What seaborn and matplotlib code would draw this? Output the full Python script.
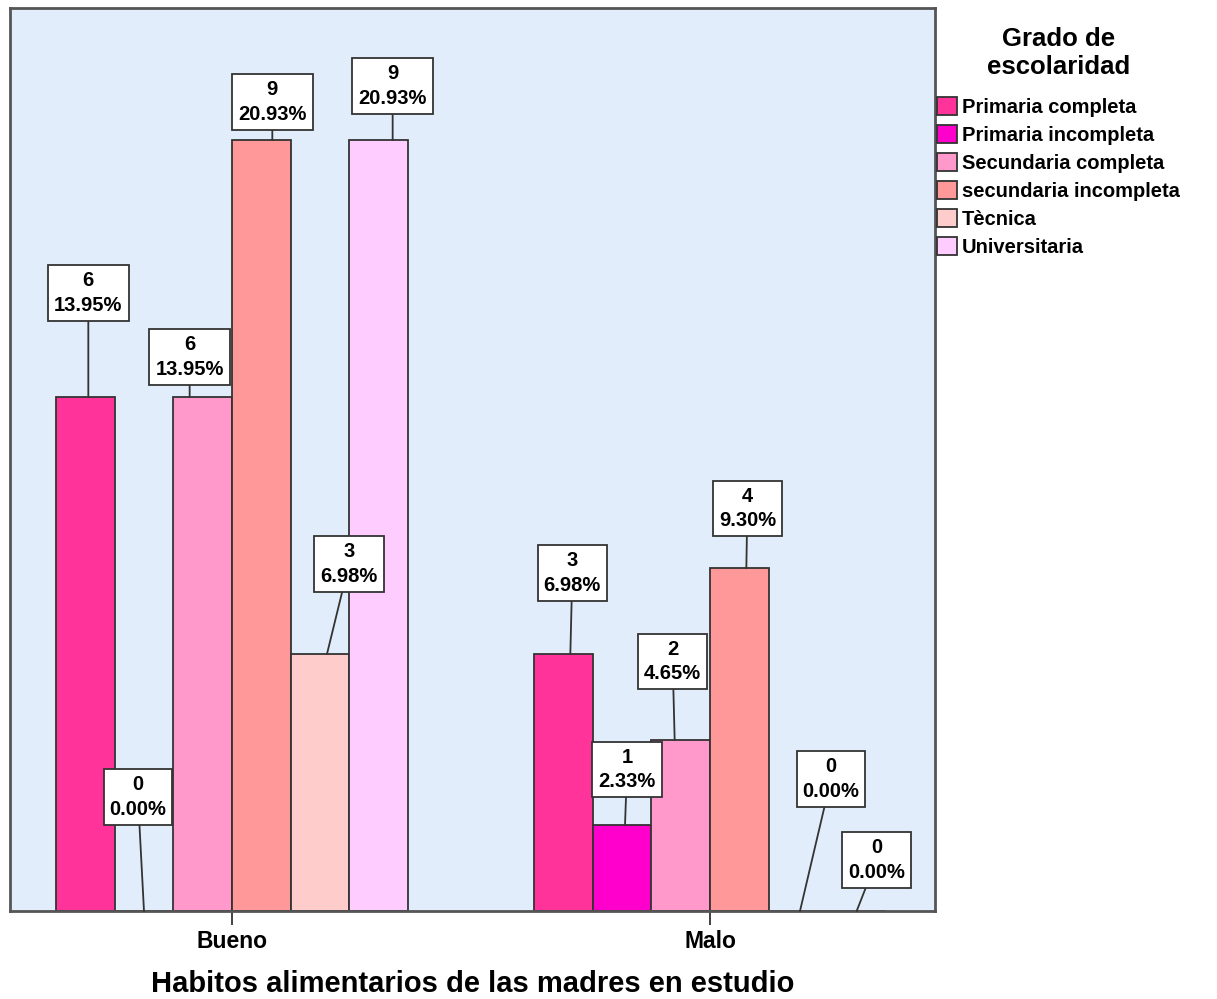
import matplotlib
matplotlib.use("Agg")
import matplotlib.pyplot as plt
import matplotlib.transforms as mtransforms
import pandas as pd
import seaborn as sns

# ---- data -------------------------------------------------------------
habitos = ["Bueno", "Malo"]
grados = ["Primaria completa", "Primaria incompleta", "Secundaria completa",
          "secundaria incompleta", "Tècnica", "Universitaria"]
conteo_bueno = [6, 0, 6, 9, 3, 9]
conteo_malo = [3, 1, 2, 4, 0, 0]

colores = ["#FF3399", "#FF00CC", "#FF99CC", "#FF9999", "#FFCCCC", "#FFCCFF"]

# label placement (pixels): attach shift on bar top, box centre dx, box centre dy
pos_bueno = [(3, 3, 104), (0, -6, 114), (-13, -13, 40), (11, 11, 38), (7, 29, 90), (14, 14, 54)]
pos_malo = [(7, 9, 81), (3, 5, 56), (-6, -8, 78), (7, 8, 60), (2, 33, 132), (0, 20, 51)]

rows = []
for hab, counts in zip(habitos, [conteo_bueno, conteo_malo]):
    for g, c in zip(grados, counts):
        rows.append({"habito": hab, "grado": g, "n": c})
df = pd.DataFrame(rows)
total = df["n"].sum()

# ---- figure -----------------------------------------------------------
sns.set_theme(style="white")
plt.rcParams["font.family"] = ["Liberation Sans", "DejaVu Sans"]
plt.rcParams["font.weight"] = "bold"
plt.rcParams["text.color"] = "black"
plt.rcParams["axes.labelcolor"] = "black"
plt.rcParams["xtick.labelcolor"] = "black"

W, H = 1217, 999
fig = plt.figure(figsize=(W / 100, H / 100), dpi=100)
ax = fig.add_axes([10 / W, 88 / H, 925 / W, 903 / H])
ax.set_facecolor("#E1EDFA")

sns.barplot(data=df, x="habito", y="n", hue="grado", order=habitos,
            hue_order=grados, palette=colores, width=0.7364,
            edgecolor="#333333", linewidth=1.3, ax=ax, saturation=1)

ax.set_xlim(-0.4644, 1.4707)
ax.set_ylim(0, 10.54)
ax.set_yticks([])
ax.set_ylabel("")
ax.set_xlabel("Habitos alimentarios de las madres en estudio",
              fontsize=21, fontweight="bold", labelpad=12)
ax.tick_params(axis="x", bottom=True, length=10, width=1.3, color="#333333",
               labelsize=16.5, pad=4)
for lab in ax.get_xticklabels():
    lab.set_fontweight("bold")
for sp in ax.spines.values():
    sp.set_color("#555555")
    sp.set_linewidth(2)
    sp.set_visible(True)

# ---- value labels -----------------------------------------------------
positions = [pos_bueno, pos_malo]
for i, cont in enumerate(ax.containers):
    for j, bar in enumerate(cont):
        h = bar.get_height()
        cx = bar.get_x() + bar.get_width() / 2
        adx, bdx, bdy = positions[j][i]
        pct = h / total * 100
        tr = mtransforms.offset_copy(ax.transData, fig=fig, x=adx, y=0, units="dots")
        ax.annotate(f"{int(h)}\n{pct:.2f}%", xy=(cx, h), xycoords=tr,
                    xytext=(bdx - adx, bdy), textcoords="offset pixels",
                    ha="center", va="center", fontsize=14.5, fontweight="bold",
                    linespacing=1.35, zorder=5, annotation_clip=False,
                    bbox=dict(boxstyle="square,pad=0.3", fc="white",
                              ec="#333333", lw=1.3),
                    arrowprops=dict(arrowstyle="-", color="#333333", lw=1.3,
                                    shrinkA=0, shrinkB=0))

# ---- legend -----------------------------------------------------------
handles, labels = ax.get_legend_handles_labels()
ax.get_legend().remove()
leg = fig.legend(handles, labels, loc="upper left",
                 bbox_to_anchor=(937 / W, 1 - 27 / H),
                 title="Grado de\nescolaridad", frameon=False,
                 borderpad=0, borderaxespad=0, handlelength=1.0,
                 handleheight=1.0, handletextpad=0.25, labelspacing=0.40,
                 prop={"size": 14.5, "weight": "bold"},
                 title_fontproperties={"size": 18.5, "weight": "bold"},
                 alignment="center")
leg.get_title().set_multialignment("center")
leg.get_title().set_linespacing(1.2)
leg._legend_box.sep = 13
for p in leg.get_patches():
    p.set_edgecolor("#333333")
    p.set_linewidth(1.3)

fig.savefig("out.png", dpi=100)
